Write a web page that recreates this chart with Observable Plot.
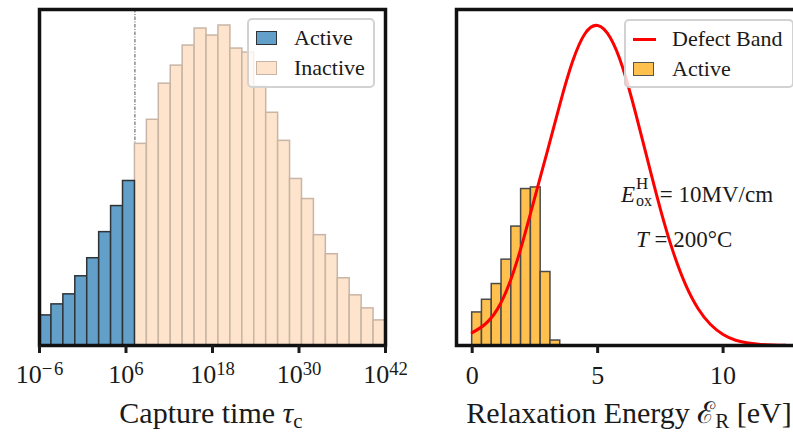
<!DOCTYPE html>
<html>
<head>
<meta charset="utf-8">
<script src="https://cdn.jsdelivr.net/npm/d3@7"></script>
<script src="https://cdn.jsdelivr.net/npm/@observablehq/plot@0.6"></script>
<style>
  html, body { margin: 0; padding: 0; background: #fff; overflow: hidden; }
  #fig { position: relative; width: 793px; height: 437px; overflow: hidden;
         font-family: "Liberation Serif", "DejaVu Serif", serif; color: #1a1a1a; }
  #fig svg { position: absolute; top: 0; z-index: 1; overflow: visible; }
  .legend { position: absolute; z-index: 2; box-sizing: border-box;
            background: rgba(255,255,255,0.8); border: 2px solid #d2d2d2; border-radius: 5px; }
  .row { position: absolute; left: 0; right: 0; height: 30px; display: flex; align-items: center; font-size: 22px; }
  .patch { position: absolute; width: 21px; height: 14px; box-sizing: border-box; border: 1.5px solid #333; }
  .row span.t { position: absolute; white-space: nowrap; }
  .xlabel { position: absolute; z-index: 1; font-size: 30px; line-height: 30px; white-space: nowrap; transform: translateX(-50%); }
  .xlabel sub { font-size: 0.7em; vertical-align: -0.22em; line-height: 0; }
  .note { position: absolute; z-index: 0; font-size: 23px; line-height: 23px; white-space: nowrap; }
  .ss { display: inline-block; position: relative; width: 19px; height: 0; }
  .ss span { position: absolute; left: 1px; font-size: 17px; line-height: 16px; }
  .ss .sp { top: -26px; }
  .ss .sb { top: -9px; font-size: 16px; }
</style>
</head>
<body>
<div id="fig"></div>
<script>
// ---- Capture-time histogram (log10 bins) ----
const tauBinRange = [-6, 42];                 // log10 of first/last bin edge
const activeCounts = [30, 41, 51, 69, 87, 113, 139, 164];
const inactiveCounts = [201, 225, 261, 279, 299, 316, 309, 319, 296, 292, 258,
                        232, 204, 166, 146, 110, 91, 67, 50, 37, 25];
const tauTickExponents = [-6, 6, 18, 30, 42];

// ---- Relaxation energy ----
const energyBinStart = 0;                      // eV
const energyBinWidth = 0.39;                   // eV
const activeEnergyDensity = [0.0206, 0.0285, 0.0383, 0.0535, 0.0741, 0.0975, 0.0985, 0.0458, 0.0031];
const bandEnergy = [0, 0.5, 1, 1.5, 2, 2.5, 3, 3.5, 4, 4.5, 5, 5.5, 6, 6.5, 7, 7.5, 8, 8.5,
                    9, 9.5, 10, 10.5, 11, 11.5, 12, 12.5];
const bandDensity = [0.0080, 0.0131, 0.0225, 0.0394, 0.0638, 0.0925, 0.1213, 0.1506, 0.1769,
                     0.1944, 0.1994, 0.1919, 0.1731, 0.1456, 0.1150, 0.0850, 0.0588, 0.0381,
                     0.0231, 0.0131, 0.0069, 0.0033, 0.0015, 0.0006, 0.0003, 0.0001];
const energyTicks = [0, 5, 10];

const fig = document.getElementById("fig");
const ink = "#1a1a1a";

// histogram bins for the capture times
const nTau = activeCounts.length + inactiveCounts.length;
const tauStep = (tauBinRange[1] - tauBinRange[0]) / nTau;
const tauBins = [...activeCounts, ...inactiveCounts].map((count, i) => ({
  x1: 10 ** (tauBinRange[0] + i * tauStep),
  x2: 10 ** (tauBinRange[0] + (i + 1) * tauStep),
  count,
  group: i < activeCounts.length ? "Active" : "Inactive"
}));
const threshold = tauBins[activeCounts.length].x1;
const tauMax = d3.max(tauBins, d => d.count);

const left = Plot.plot({
  width: 400, height: 437,
  marginLeft: 39, marginRight: 15, marginTop: 9, marginBottom: 92,
  style: { background: "transparent", color: ink, fontFamily: "Liberation Serif, serif" },
  x: { type: "log", domain: [10 ** tauBinRange[0], 10 ** tauBinRange[1]] },
  y: { domain: [0, tauMax * 1.05], axis: null },
  marks: [
    Plot.ruleX([threshold], { stroke: "#555", strokeWidth: 1, strokeDasharray: "3.5 1.5 1 1.5" }),
    Plot.rectY(tauBins.filter(d => d.group === "Inactive"),
      { x1: "x1", x2: "x2", y: "count", inset: 0, fill: "#fee4cc", stroke: "#c8b5a5", strokeWidth: 1.5 }),
    Plot.rectY(tauBins.filter(d => d.group === "Active"),
      { x1: "x1", x2: "x2", y: "count", inset: 0, fill: "#62a0ca", stroke: "#2e3338", strokeWidth: 1.5 }),
    Plot.frame({ stroke: "#111", strokeWidth: 3.5 }),
    Plot.axisX(tauTickExponents.map(e => 10 ** e), {
      tickSize: 8, strokeWidth: 3, tickPadding: 11, fontSize: 26, label: null,
      tickFormat: d => "10^" + Math.round(Math.log10(d))
    })
  ]
});
left.style.left = "0px";
fig.appendChild(left);

// turn "10^n" tick labels into base + superscript
d3.select(left).selectAll('[aria-label="x-axis tick label"] text').each(function () {
  const [base, exp] = this.textContent.split("^");
  this.textContent = base;
  d3.select(this).append("tspan").attr("dy", "-0.45em").attr("font-size", "0.72em")
    .text(exp.replace("-", "\u2212\u200a"));
});

// relaxation-energy panel
const energyBins = activeEnergyDensity.map((v, i) => ({
  x1: energyBinStart + i * energyBinWidth,
  x2: energyBinStart + (i + 1) * energyBinWidth,
  v
}));
const band = bandEnergy.map((e, i) => ({ e, d: bandDensity[i] }));
const eExt = d3.extent(bandEnergy);
const ePad = (eExt[1] - eExt[0]) * 0.05;

const right = Plot.plot({
  width: 411, height: 437,
  marginLeft: 56, marginRight: 10, marginTop: 9, marginBottom: 92,
  style: { background: "transparent", color: ink, fontFamily: "Liberation Serif, serif" },
  x: { domain: [eExt[0] - ePad, eExt[1] + ePad] },
  y: { domain: [0, d3.max(bandDensity) * 1.05], axis: null },
  marks: [
    Plot.rectY(energyBins, { x1: "x1", x2: "x2", y: "v", inset: 0, fill: "#ffc04d", stroke: "#4a4a4a", strokeWidth: 1.5 }),
    Plot.line(band, { x: "e", y: "d", stroke: "#ff0000", strokeWidth: 3, curve: "natural" }),
    Plot.frame({ stroke: "#111", strokeWidth: 3.5 }),
    Plot.axisX(energyTicks, { tickSize: 8, strokeWidth: 3, tickPadding: 12, fontSize: 26, label: null })
  ]
});
right.style.left = "400px";
fig.appendChild(right);

// legends and labels
function legend(x, y, w, h, entries) {
  const box = document.createElement("div");
  box.className = "legend";
  Object.assign(box.style, { left: x + "px", top: y + "px", width: w + "px", height: h + "px" });
  entries.forEach((e, i) => {
    const row = document.createElement("div");
    row.className = "row";
    row.style.top = (3 + i * 30) + "px";
    if (e.line) {
      const l = document.createElement("div");
      Object.assign(l.style, { position: "absolute", left: "7px", width: "23px", height: "3px", background: e.line, top: "13.5px" });
      row.appendChild(l);
    } else {
      const p = document.createElement("div");
      p.className = "patch";
      Object.assign(p.style, { left: "7px", top: "8px", background: e.fill, borderColor: e.stroke });
      row.appendChild(p);
    }
    const t = document.createElement("span");
    t.className = "t";
    t.style.left = e.tx + "px";
    t.textContent = e.label;
    row.appendChild(t);
    box.appendChild(row);
  });
  fig.appendChild(box);
}
legend(247, 18, 128, 70, [
  { label: "Active", fill: "#62a0ca", stroke: "#2e3338", tx: 45 },
  { label: "Inactive", fill: "#fee4cc", stroke: "#c8b5a5", tx: 45 }
]);
legend(624, 19, 170, 69, [
  { label: "Defect Band", line: "#ff0000", tx: 46 },
  { label: "Active", fill: "#ffc04d", stroke: "#555", tx: 46 }
]);

function html(cls, x, y, inner) {
  const d = document.createElement("div");
  d.className = cls;
  d.style.left = x + "px";
  d.style.top = y + "px";
  d.innerHTML = inner;
  fig.appendChild(d);
}
html("xlabel", 211, 398, "Capture time <i>τ</i><sub>c</sub>");
html("xlabel", 629, 398, "Relaxation Energy ℰ<sub>R</sub> [eV]");
html("note", 621, 183, "<i>E</i><span class='ss'><span class='sp'>H</span><span class='sb'>ox</span></span> = 10MV/cm");
html("note", 636, 228, "<i>T</i> = 200°C");
</script>
</body>
</html>
